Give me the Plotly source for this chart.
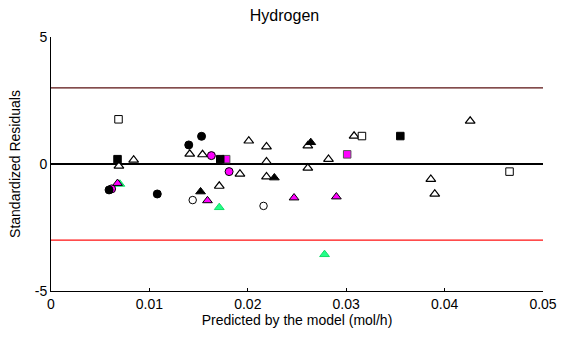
import plotly.graph_objects as go

# ---- data ----
open_tri_x = [0.0069, 0.0084, 0.0141, 0.0154, 0.0201, 0.0219, 0.0219, 0.0192, 0.0219,
              0.0261, 0.0261, 0.0282, 0.0308, 0.0426, 0.0386, 0.0390, 0.0171]
open_tri_y = [-0.08, 0.16, 0.39, 0.37, 0.91, 0.68, 0.09, -0.39, -0.50,
              0.72, -0.16, 0.19, 1.10, 1.69, -0.60, -1.18, -0.87]
black_tri_x = [0.0152, 0.0227, 0.0264]
black_tri_y = [-1.09, -0.54, 0.85]
green_tri_x = [0.0070, 0.0171, 0.0278]
green_tri_y = [-0.79, -1.71, -3.56]
mag_tri_x = [0.00676, 0.0159, 0.0247, 0.0290]
mag_tri_y = [-0.76, -1.44, -1.33, -1.29]
open_circ_x = [0.0144, 0.0216]
open_circ_y = [-1.42, -1.65]
mag_circ_x = [0.0163, 0.0181, 0.00616]
mag_circ_y = [0.33, -0.30, -0.98]
black_circ_x = [0.0140, 0.0153, 0.0059, 0.0108]
black_circ_y = [0.75, 1.09, -1.02, -1.18]
open_sq_x = [0.00686, 0.0316, 0.0466]
open_sq_y = [1.76, 1.10, -0.30]
mag_sq_x = [0.0178, 0.0301]
mag_sq_y = [0.19, 0.38]
black_sq_x = [0.00676, 0.0172, 0.0355]
black_sq_y = [0.19, 0.19, 1.10]

x_range = [0, 0.05]
y_range = [-5, 5]
x_ticks = [0, 0.01, 0.02, 0.03, 0.04, 0.05]
x_tick_labels = ["0", "0.01", "0.02", "0.03", "0.04", "0.05"]
y_ticks = [-5, 0, 5]
y_tick_labels = ["-5", "0", "5"]
upper_level = 3
lower_level = -3
zero_level = 0

FONT = "Liberation Sans, Arial, sans-serif"
GREEN = "#22FF88"
MAG = "#FF00FF"

fig = go.Figure()

# reference lines
fig.add_trace(go.Scatter(x=x_range, y=[upper_level, upper_level], mode="lines",
                         line=dict(color="#5A1010", width=1.2), hoverinfo="skip"))
fig.add_trace(go.Scatter(x=x_range, y=[lower_level, lower_level], mode="lines",
                         line=dict(color="#FF1010", width=1.3), hoverinfo="skip"))
fig.add_trace(go.Scatter(x=x_range, y=[zero_level, zero_level], mode="lines",
                         line=dict(color="black", width=2), hoverinfo="skip"))


def add(xs, ys, symbol, size, fill, edge, ew=1):
    fig.add_trace(go.Scatter(x=xs, y=ys, mode="markers",
                             marker=dict(symbol=symbol, size=size, color=fill,
                                         line=dict(color=edge, width=ew))))


add(open_tri_x, open_tri_y, "triangle-up", 8.5, "white", "black", 1.2)
add(black_tri_x, black_tri_y, "triangle-up", 8.5, "black", "black", 1)
add(green_tri_x, green_tri_y, "triangle-up", 8.5, GREEN, "#11DD66", 1)
add(mag_tri_x, mag_tri_y, "triangle-up", 8.5, MAG, "black", 1)
add(open_circ_x, open_circ_y, "circle", 7.5, "white", "black", 1)
add(mag_circ_x, mag_circ_y, "circle", 8, MAG, "black", 1)
add(black_circ_x, black_circ_y, "circle", 8, "black", "black", 1)
add(open_sq_x, open_sq_y, "square", 7.5, "white", "black", 1)
add(mag_sq_x, mag_sq_y, "square", 7.5, MAG, "#555555", 1)
add(black_sq_x, black_sq_y, "square", 7.5, "black", "black", 1)

fig.update_layout(
    width=569, height=337,
    margin=dict(l=51, r=20, t=37, b=46),
    paper_bgcolor="white", plot_bgcolor="white",
    showlegend=False,
    font=dict(family=FONT, size=14, color="black"),
    title=dict(text="Hydrogen", x=0.5, xanchor="center", y=0.955, yanchor="middle",
               font=dict(family=FONT, size=16, color="black")),
    xaxis=dict(range=x_range, tickvals=x_ticks, ticktext=x_tick_labels,
               showgrid=False, zeroline=False, showline=True, linecolor="black",
               linewidth=1, ticks="inside", ticklen=3, tickcolor="black",
               tickfont=dict(size=14),
               title=dict(text="Predicted by the model (mol/h)", standoff=3,
                          font=dict(size=14))),
    yaxis=dict(range=y_range, tickvals=y_ticks, ticktext=y_tick_labels,
               showgrid=False, zeroline=False, showline=True, linecolor="black",
               linewidth=1, ticks="inside", ticklen=3, tickcolor="black",
               tickfont=dict(size=14),
               title=dict(text="Standardized Residuals", standoff=10,
                          font=dict(size=14))),
)

fig.write_html("out.html")
